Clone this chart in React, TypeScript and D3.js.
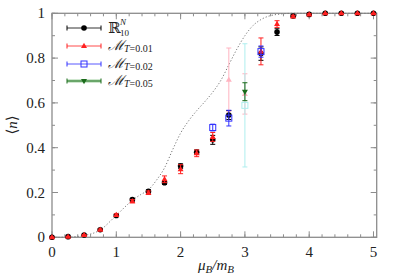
import * as d3 from 'd3'

// chemical potential grid (mu_B / m_B)
const muGrid = [0, 0.25, 0.5, 0.75, 1, 1.25, 1.5, 1.75, 2, 2.25, 2.5, 2.75, 3, 3.25, 3.5, 3.75, 4, 4.25, 4.5, 4.75, 5]

// R^N_10 (black)
const rN = [0, 0.003, 0.01, 0.034, 0.097, 0.168, 0.205, 0.244, 0.318, 0.38, 0.435, 0.546, null, 0.82, 0.916, 0.988, 0.995, 1, 1, 1, 1]
const rNErr = [0.001, 0.001, 0.002, 0.003, 0.005, 0.006, 0.007, 0.008, 0.01, 0.01, 0.02, 0.02, null, 0.03, 0.015, 0.004, 0.003, 0.001, 0.001, 0.001, 0.001]

// M_{T=0.01} (red)
const m001 = [0, 0.003, 0.01, 0.034, 0.1, 0.161, 0.199, 0.259, 0.304, 0.375, 0.448, 0.703, 0.64, 0.83, 0.952, 0.986, 0.995, 1, 1, 1, 1]
const m001Err = [0.001, 0.001, 0.002, 0.003, 0.005, 0.007, 0.008, 0.015, 0.02, 0.015, 0.02, 0.142, 0.09, 0.06, 0.015, 0.005, 0.003, 0.002, 0.001, 0.001, 0.001]
const m001Faded = [2.75, 3]

// M_{T=0.02} (blue)
const m002Mu = [2.5, 2.75, 3, 3.25]
const m002 = [0.49, 0.532, 0.589, 0.829]
const m002Err = [0.015, 0.035, 0.275, 0.025]
const m002Faded = [3]

// M_{T=0.05} (green)
const m005Mu = [3]
const m005 = [0.65]
const m005Err = [0.04]

// dotted reference curve
const curveMu = [0, 0.25, 0.5, 0.75, 1, 1.25, 1.375, 1.5, 1.625, 1.75, 1.875, 2, 2.125, 2.25, 2.375, 2.5, 2.625, 2.75, 2.875, 3, 3.125, 3.25, 3.5, 3.75, 4, 5]
const curveN = [0, 0.001, 0.008, 0.033, 0.098, 0.165, 0.19, 0.212, 0.255, 0.31, 0.39, 0.465, 0.52, 0.565, 0.605, 0.648, 0.7, 0.77, 0.84, 0.9, 0.945, 0.972, 0.995, 1, 1, 1]

const xTicks = [0, 1, 2, 3, 4, 5]
const yTicks = [0, 0.2, 0.4, 0.6, 0.8, 1]
const mLabels = ['0.01', '0.02', '0.05']

const FONT = "'Times New Roman', 'Liberation Serif', Times, 'DejaVu Serif', serif"

const x = d3.scaleLinear().domain([0, 5.05]).range([52, 376.7])
const y = d3.scaleLinear().domain([0, 1]).range([237.3, 13.3])

type Pt = { mu: number; v: number; e: number; faded: boolean }

const build = (mus: number[], vals: (number | null)[], errs: (number | null)[], faded: number[] = []): Pt[] =>
  mus
    .map((mu, i) => ({ mu, v: vals[i] as number, e: (errs[i] ?? 0) as number, faded: faded.includes(mu) }))
    .filter((d) => d.v !== null && d.v !== undefined)

const Marker = ({ kind, cx, cy, color }: { kind: string; cx: number; cy: number; color: string }) => {
  if (kind === 'circle') return <circle cx={cx} cy={cy} r={2.8} fill={color} />
  if (kind === 'up') return <path d={`M${cx},${cy - 3.2}L${cx + 3},${cy + 2}L${cx - 3},${cy + 2}Z`} fill={color} />
  if (kind === 'down') return <path d={`M${cx},${cy + 3.2}L${cx + 3},${cy - 2}L${cx - 3},${cy - 2}Z`} fill={color} />
  return <rect x={cx - 3} y={cy - 3} width={6} height={6} fill="none" stroke={color} strokeWidth={1} />
}

const Series = ({ data, color, fade, kind }: { data: Pt[]; color: string; fade: string; kind: string }) => (
  <g>
    {data.map((d, i) => {
      const c = d.faded ? fade : color
      const cx = x(d.mu)
      const y0 = y(Math.max(0, d.v - d.e))
      const y1 = y(Math.min(1, d.v + d.e))
      return (
        <g key={i}>
          <line x1={cx} x2={cx} y1={y0} y2={y1} stroke={c} strokeWidth={1} />
          <line x1={cx - 2.5} x2={cx + 2.5} y1={y0} y2={y0} stroke={c} strokeWidth={1} />
          <line x1={cx - 2.5} x2={cx + 2.5} y1={y1} y2={y1} stroke={c} strokeWidth={1} />
          <Marker kind={kind} cx={cx} cy={y(d.v)} color={c} />
        </g>
      )
    })}
  </g>
)

const App = () => {
  const black = build(muGrid, rN, rNErr)
  const red = build(muGrid, m001, m001Err, m001Faded)
  const blue = build(m002Mu, m002, m002Err, m002Faded)
  const green = build(m005Mu, m005, m005Err)

  const line = d3
    .line<number>()
    .x((_, i) => x(curveMu[i]))
    .y((d) => y(d))
    .curve(d3.curveMonotoneX)

  const x0 = x.range()[0]
  const x1 = x.range()[1]
  const yb = y.range()[0]
  const yt = y.range()[1]
  const axisColor = '#8c8c8c'

  const xMinor = d3.range(0, 5.01, 0.2)
  const yMinor = d3.range(0, 1.001, 0.1)

  const legend = [
    { kind: 'circle', color: '#000', band: null as string | null },
    { kind: 'up', color: '#ff2020', band: null },
    { kind: 'square', color: '#3030ff', band: null },
    { kind: 'down', color: '#1a6b1a', band: '#9fcf9f' }
  ]
  const legendY = [28, 46, 64, 81]

  return (
    <svg width={399} height={279} style={{ position: 'absolute', left: 0, top: 0, background: '#fff' }}>
      <rect width={399} height={279} fill="#fff" />

      {/* ticks */}
      <g stroke={axisColor} strokeWidth={1}>
        {xMinor.map((t, i) => (
          <g key={'xm' + i}>
            <line x1={x(t)} x2={x(t)} y1={yb} y2={yb - 3} />
            <line x1={x(t)} x2={x(t)} y1={yt} y2={yt + 3} />
          </g>
        ))}
        {xTicks.map((t) => (
          <g key={'x' + t}>
            <line x1={x(t)} x2={x(t)} y1={yb} y2={yb - 6} />
            <line x1={x(t)} x2={x(t)} y1={yt} y2={yt + 6} />
          </g>
        ))}
        {yMinor.map((t, i) => (
          <g key={'ym' + i}>
            <line x1={x0} x2={x0 + 3} y1={y(t)} y2={y(t)} />
            <line x1={x1} x2={x1 - 3} y1={y(t)} y2={y(t)} />
          </g>
        ))}
        {yTicks.map((t) => (
          <g key={'y' + t}>
            <line x1={x0} x2={x0 + 6} y1={y(t)} y2={y(t)} />
            <line x1={x1} x2={x1 - 6} y1={y(t)} y2={y(t)} />
          </g>
        ))}
      </g>
      <rect x={x0} y={yt} width={x1 - x0} height={yb - yt} fill="none" stroke={axisColor} strokeWidth={1.3} />

      {/* tick labels */}
      <g fontFamily={FONT} fontSize={15} fill="#222">
        {xTicks.map((t) => (
          <text key={t} x={x(t)} y={257} textAnchor="middle">{t}</text>
        ))}
        {yTicks.map((t) => (
          <text key={t} x={45} y={y(t) + 5} textAnchor="end">{t}</text>
        ))}
      </g>

      {/* axis labels */}
      <text x={216} y={270} textAnchor="middle" fontFamily={FONT} fontSize={15} fontStyle="italic" fill="#222">
        μ<tspan fontSize={11} dy={3}>B</tspan>
        <tspan dy={-3}>/m</tspan>
        <tspan fontSize={11} dy={3}>B</tspan>
      </text>
      <text transform="translate(17,125) rotate(-90)" textAnchor="middle" fontFamily={FONT} fontSize={15} fill="#222">
        ⟨<tspan fontStyle="italic">n</tspan>⟩
      </text>

      {/* reference curve */}
      <path d={line(curveN) ?? ''} fill="none" stroke="#777" strokeWidth={1} strokeDasharray="1.2,2" />

      {/* data */}
      <Series data={black} color="#000" fade="#999" kind="circle" />
      <Series data={red} color="#ff2020" fade="#ffb3c0" kind="up" />
      <Series data={blue} color="#3030ff" fade="#aeeeee" kind="square" />
      <Series data={green} color="#1a6b1a" fade="#9fcf9f" kind="down" />

      {/* legend */}
      {legend.map((l, i) => {
        const ly = legendY[i]
        return (
          <g key={i}>
            {l.band && <line x1={67} x2={101} y1={ly} y2={ly} stroke={l.band} strokeWidth={3} />}
            <line x1={67} x2={101} y1={ly} y2={ly} stroke={l.color} strokeWidth={1} opacity={0.8} />
            <line x1={67} x2={67} y1={ly - 2.5} y2={ly + 2.5} stroke={l.color} strokeWidth={1} />
            <line x1={101} x2={101} y1={ly - 2.5} y2={ly + 2.5} stroke={l.color} strokeWidth={1} />
            <Marker kind={l.kind} cx={84} cy={ly} color={l.color} />
          </g>
        )
      })}
      <g fill="#222" fontFamily={FONT}>
        <text x={108} y={legendY[0] + 5} fontSize={15}>ℝ</text>
        <text x={120} y={legendY[0] - 3} fontSize={9} fontStyle="italic">N</text>
        <text x={120} y={legendY[0] + 8} fontSize={9}>10</text>
        {mLabels.map((m, i) => (
          <text key={m} x={108} y={legendY[i + 1] + 4} fontSize={14}>
            <tspan fontStyle="italic">ℳ</tspan>
            <tspan fontSize={10} dy={2} fontStyle="italic">T</tspan>
            <tspan fontSize={10}>={m}</tspan>
          </text>
        ))}
      </g>
    </svg>
  )
}

export default App
